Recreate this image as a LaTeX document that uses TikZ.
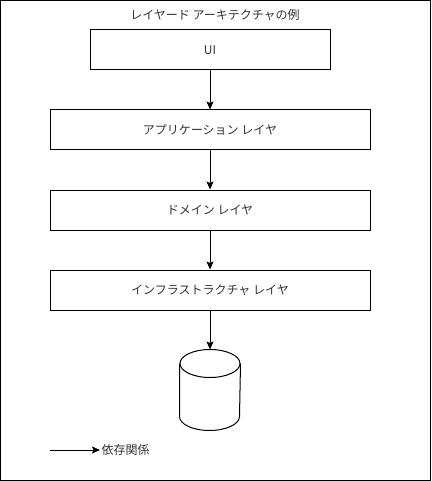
\documentclass[tikz,border=0pt]{standalone}
\usepackage{fontspec}
\setmainfont{Noto Sans CJK JP}
\usetikzlibrary{arrows.meta}

\begin{document}
\begin{tikzpicture}[x=1pt, y=-1pt, line width=1pt,
  every node/.style = {font=\fontsize{12}{14}\selectfont, text=black!80},
  layer/.style = {shape=rectangle, draw=black, minimum height=40pt, inner sep=0pt},
  dep/.style = {-{Stealth[length=8pt,width=7pt,inset=1.5pt]}, draw=black},
  rim/.style = {x radius=30pt, y radius=14pt}]
  \useasboundingbox (0,0) rectangle (431,481);
  \draw (0.5,0.5) rectangle (430.5,480.5);
  \node (title) at (215,15) {レイヤード アーキテクチャの例};
  \node[layer, minimum width=240pt] (ui) at (210,50) {UI};
  \node[layer, minimum width=320pt] (app) at (210,130) {アプリケーション レイヤ};
  \node[layer, minimum width=320pt] (domain) at (210,210) {ドメイン レイヤ};
  \node[layer, minimum width=320pt] (infra) at (210,290) {インフラストラクチャ レイヤ};
  % database
  \node[minimum width=60pt, minimum height=80pt, inner sep=0pt] (db) at (210,390) {};
  \draw ([yshift=-14pt]db.north) ellipse [rim];
  \draw ([yshift=-14pt]db.north west) -- ([yshift=14pt]db.south west)
    arc [start angle=180, end angle=360, rim] -- ([yshift=-14pt]db.north east);
  \draw[dep] (ui) -- (app);
  \draw[dep] (app) -- (domain);
  \draw[dep] (domain) -- (infra);
  \draw[dep] (infra) -- (db);
  % legend
  \coordinate (legstart) at (50,450);
  \node[anchor=west, inner sep=1pt] (legtext) at (100,450) {依存関係};
  \draw[dep] (legstart) -- (legtext.west);
\end{tikzpicture}
\end{document}
